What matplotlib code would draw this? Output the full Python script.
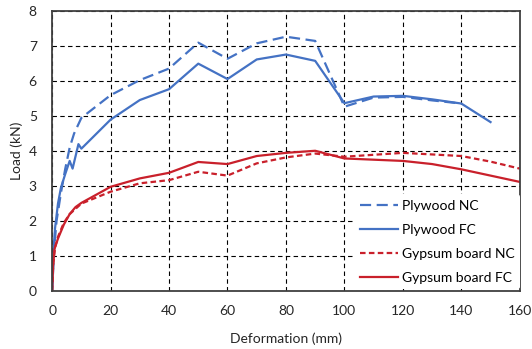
import matplotlib
matplotlib.use("Agg")
import matplotlib.pyplot as plt

# Plywood, no collar / full collar
ply_nc_x = [0, 0.7, 1.5, 3, 4.5, 6, 7.5, 10, 20, 30, 40, 50, 60, 70, 80, 90, 100, 110, 120, 130, 140]
ply_nc_y = [0, 1.2, 2.0, 2.8, 3.5, 4.1, 4.5, 4.95, 5.6, 6.03, 6.36, 7.1, 6.64, 7.08, 7.27, 7.15, 5.27, 5.53, 5.55, 5.45, 5.36]

ply_fc_x = [0, 0.5, 1, 2, 3, 4.5, 6, 7, 9, 10, 20, 30, 40, 50, 60, 70, 80, 90, 100, 110, 120, 130, 140, 150]
ply_fc_y = [0, 1.2, 1.8, 2.5, 2.95, 3.35, 3.72, 3.5, 4.2, 4.07, 4.9, 5.46, 5.77, 6.5, 6.06, 6.62, 6.76, 6.58, 5.37, 5.56, 5.58, 5.48, 5.36, 4.83]

gyp_nc_x = [0, 0.4, 1, 2, 4, 6, 8, 10, 20, 30, 40, 50, 60, 70, 80, 90, 100, 120, 140, 150, 160]
gyp_nc_y = [0, 0.8, 1.25, 1.55, 1.95, 2.2, 2.35, 2.5, 2.84, 3.08, 3.17, 3.41, 3.3, 3.65, 3.82, 3.93, 3.84, 3.95, 3.86, 3.7, 3.5]

gyp_fc_x = [0, 0.3, 0.8, 2, 4, 6, 8, 10, 20, 30, 40, 50, 60, 70, 80, 90, 100, 120, 130, 140, 150, 160]
gyp_fc_y = [0, 0.7, 1.2, 1.5, 1.9, 2.2, 2.4, 2.52, 2.98, 3.22, 3.38, 3.69, 3.63, 3.86, 3.95, 4.01, 3.79, 3.72, 3.63, 3.48, 3.3, 3.12]

BLUE = "#4472C4"
RED = "#C9202B"

plt.rcParams["font.family"] = ["Lato", "DejaVu Sans"]

fig = plt.figure(figsize=(5.32, 3.49), dpi=100)
ax = fig.add_axes([0.098, 0.166, 0.879, 0.802])

ax.plot(ply_nc_x, ply_nc_y, color=BLUE, lw=1.6, dashes=(5, 2.5), label="Plywood NC")
ax.plot(ply_fc_x, ply_fc_y, color=BLUE, lw=1.6, label="Plywood FC")
ax.plot(gyp_nc_x, gyp_nc_y, color=RED, lw=1.6, dashes=(2.5, 1.5), label="Gypsum board NC")
ax.plot(gyp_fc_x, gyp_fc_y, color=RED, lw=1.6, label="Gypsum board FC")

ax.set_xlim(0, 160)
ax.set_ylim(0, 8)
ax.set_xticks(range(0, 161, 20))
ax.set_yticks(range(0, 9))
ax.grid(True, color="black", lw=0.8, dashes=(4, 3))
ax.set_axisbelow(True)
ax.tick_params(length=0, labelsize=10, colors="#262626")
ax.tick_params(axis="x", pad=10)
ax.tick_params(axis="y", pad=11)
for s in ax.spines.values():
    s.set_color("#404040")
    s.set_linewidth(1.3)

ax.set_xlabel("Deformation (mm)", fontsize=10, color="#262626", labelpad=11)
ax.set_ylabel("Load (kN)", fontsize=10, color="#262626", labelpad=4)

# legend placed by its upper-left corner (figure pixels)
leg = ax.legend(loc="upper left", bbox_to_anchor=(354 / 532, 1 - 194 / 349),
                bbox_transform=fig.transFigure, frameon=True,
                fontsize=10, handlelength=2.75, labelspacing=0.87, handletextpad=0.3,
                borderpad=0.4, borderaxespad=0)
leg.get_frame().set_facecolor("white")
leg.get_frame().set_edgecolor("none")
leg.get_frame().set_alpha(1)

fig.savefig("out.png", dpi=100)
